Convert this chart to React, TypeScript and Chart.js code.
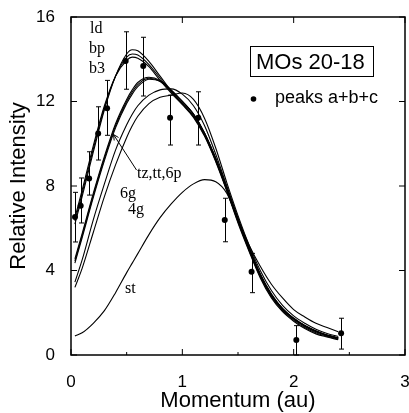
import React, { useEffect, useRef } from 'react';
import { Chart, registerables } from 'chart.js';

Chart.register(...registerables);

// Momentum grid (au) for the model curves
const momentum = [0.035, 0.1, 0.2, 0.3, 0.4, 0.5, 0.55, 0.6, 0.7, 0.8, 0.9, 1.0, 1.1, 1.2, 1.3, 1.4, 1.5, 1.6, 1.7, 1.8, 1.9, 2.0, 2.1, 2.2, 2.3, 2.4];

// Model curves
const ld = [6.2, 7.5, 9.6, 11.6, 13.2, 14.25, 14.45, 14.4, 13.9, 13.2, 12.5, 11.9, 11.3, 10.4, 9.2, 7.8, 6.35, 5.0, 3.75, 2.8, 2.15, 1.7, 1.35, 1.1, 0.92, 0.8];
const bp = [6.35, 7.65, 9.75, 11.7, 13.2, 14.1, 14.25, 14.2, 13.75, 13.1, 12.45, 11.9, 11.3, 10.4, 9.2, 7.8, 6.3, 4.95, 3.7, 2.75, 2.1, 1.65, 1.3, 1.05, 0.88, 0.75];
const b3 = [6.5, 7.8, 9.9, 11.8, 13.2, 13.95, 14.1, 14.05, 13.65, 13.0, 12.4, 11.85, 11.25, 10.35, 9.15, 7.75, 6.25, 4.9, 3.65, 2.7, 2.05, 1.6, 1.25, 1.0, 0.85, 0.72];
const tz = [4.55, 5.75, 7.65, 9.4, 10.95, 12.1, 12.55, 12.9, 13.15, 13.0, 12.55, 12.0, 11.4, 10.5, 9.3, 7.9, 6.4, 5.05, 3.8, 2.85, 2.2, 1.72, 1.38, 1.12, 0.93, 0.8];
const tt = [4.45, 5.65, 7.55, 9.3, 10.85, 12.0, 12.45, 12.8, 13.1, 12.97, 12.53, 12.0, 11.4, 10.5, 9.3, 7.9, 6.4, 5.05, 3.8, 2.85, 2.2, 1.72, 1.38, 1.12, 0.93, 0.8];
const p6 = [4.35, 5.55, 7.45, 9.2, 10.75, 11.9, 12.35, 12.7, 13.05, 12.95, 12.5, 12.0, 11.4, 10.5, 9.3, 7.9, 6.4, 5.05, 3.8, 2.85, 2.2, 1.72, 1.38, 1.12, 0.93, 0.8];
const g6 = [3.45, 4.5, 6.4, 8.1, 9.7, 10.9, 11.4, 11.8, 12.3, 12.55, 12.6, 12.35, 11.8, 10.85, 9.5, 8.0, 6.5, 5.1, 3.85, 2.9, 2.2, 1.75, 1.4, 1.15, 0.95, 0.82];
const g4 = [3.2, 4.1, 5.8, 7.5, 9.0, 10.3, 10.85, 11.3, 11.9, 12.2, 12.3, 12.4, 12.1, 11.2, 9.8, 8.15, 6.6, 5.2, 4.0, 3.05, 2.35, 1.85, 1.5, 1.22, 1.02, 0.88];
const st = [0.9, 1.05, 1.5, 2.1, 2.95, 3.9, 4.35, 4.8, 5.7, 6.5, 7.15, 7.7, 8.1, 8.3, 8.2, 7.65, 6.4, 5.2, 4.2, 3.35, 2.7, 2.15, 1.8, 1.5, 1.3, 1.1];

// Experimental data: peaks a+b+c
const peakX = [0.036, 0.087, 0.163, 0.244, 0.324, 0.491, 0.649, 0.89, 1.143, 1.381, 1.622, 2.024, 2.426];
const peakY = [6.53, 7.07, 8.36, 10.49, 11.68, 13.92, 13.68, 11.23, 11.23, 6.39, 3.94, 0.71, 1.03];
const peakHi = [7.7, 8.38, 9.62, 11.75, 13.0, 15.3, 15.04, 12.3, 12.46, 7.42, 4.81, 1.39, 1.74];
const peakLo = [5.35, 6.25, 7.57, 9.23, 10.4, 12.58, 12.26, 9.94, 9.94, 5.36, 2.95, 0.0, 0.28];

// Axis ticks
const xTicks = [0, 1, 2, 3];
const yTicks = [0, 4, 8, 12, 16];

const curves = [ld, bp, b3, tz, tt, p6, g6, g4, st];

const SANS = '"Liberation Sans", Arial, sans-serif';
const SERIF = '"Liberation Serif", "Times New Roman", serif';

const decorPlugin = {
  id: 'decor',
  afterDatasetsDraw(chart: any) {
    const { ctx, chartArea: a, scales } = chart;
    const xs = scales.x;
    const ys = scales.y;
    ctx.save();
    ctx.strokeStyle = '#000';
    ctx.fillStyle = '#000';

    // error bars
    ctx.lineWidth = 1;
    for (let i = 0; i < peakX.length; i++) {
      const px = Math.round(xs.getPixelForValue(peakX[i])) + 0.5;
      const top = ys.getPixelForValue(peakHi[i]);
      const bot = ys.getPixelForValue(peakLo[i]);
      ctx.beginPath();
      ctx.moveTo(px, top);
      ctx.lineTo(px, bot);
      ctx.moveTo(px - 2.5, top);
      ctx.lineTo(px + 2.5, top);
      ctx.moveTo(px - 2.5, bot);
      ctx.lineTo(px + 2.5, bot);
      ctx.stroke();
    }

    // frame
    ctx.lineWidth = 1.5;
    ctx.strokeRect(a.left, a.top, a.right - a.left, a.bottom - a.top);

    // inward ticks
    ctx.lineWidth = 1;
    ctx.beginPath();
    for (const v of yTicks) {
      const py = ys.getPixelForValue(v);
      ctx.moveTo(a.left, py);
      ctx.lineTo(a.left + 6, py);
      ctx.moveTo(a.right, py);
      ctx.lineTo(a.right - 6, py);
    }
    for (const v of xTicks) {
      const px = xs.getPixelForValue(v);
      ctx.moveTo(px, a.bottom);
      ctx.lineTo(px, a.bottom - 6);
      ctx.moveTo(px, a.top);
      ctx.lineTo(px, a.top + 6);
    }
    for (let v = 0.5; v < 3; v += 1) {
      const px = xs.getPixelForValue(v);
      ctx.moveTo(px, a.bottom);
      ctx.lineTo(px, a.bottom - 3);
    }
    ctx.stroke();

    // curve labels
    ctx.font = '16px ' + SERIF;
    ctx.textBaseline = 'alphabetic';
    ctx.textAlign = 'left';
    ctx.fillText('ld', 90, 33);
    ctx.fillText('bp', 89, 53);
    ctx.fillText('b3', 89, 73);
    ctx.fillText('tz,tt,6p', 137, 178);
    ctx.fillText('6g', 120, 198);
    ctx.fillText('4g', 128, 214);
    ctx.fillText('st', 125, 293);

    // arrow to tz,tt,6p
    ctx.lineWidth = 1;
    ctx.beginPath();
    ctx.moveTo(136.5, 170);
    ctx.lineTo(113.5, 134.5);
    ctx.moveTo(113.5, 134.5);
    ctx.lineTo(114.2, 140.5);
    ctx.moveTo(113.5, 134.5);
    ctx.lineTo(118.5, 137.5);
    ctx.stroke();

    // legend box
    ctx.lineWidth = 1;
    ctx.strokeRect(250.5, 46.5, 123, 30);
    ctx.font = '22px ' + SANS;
    ctx.fillText('MOs 20-18', 256, 69);
    ctx.beginPath();
    ctx.arc(253.5, 99, 2.8, 0, Math.PI * 2);
    ctx.fill();
    ctx.font = '18px ' + SANS;
    ctx.fillText('peaks a+b+c', 275, 103);

    ctx.restore();
  },
};

export default function App() {
  const ref = useRef<HTMLCanvasElement | null>(null);

  useEffect(() => {
    document.body.style.margin = '0';
    const canvas = ref.current;
    if (!canvas) return;

    const curveSets = curves.map((c) => ({
      type: 'line' as const,
      data: momentum.map((x, i) => ({ x, y: c[i] })),
      borderColor: '#000',
      borderWidth: 1.1,
      pointRadius: 0,
      fill: false,
      cubicInterpolationMode: 'monotone' as const,
      showLine: true,
    }));

    const chart = new Chart(canvas, {
      type: 'scatter',
      data: {
        datasets: [
          ...curveSets,
          {
            type: 'scatter' as const,
            data: peakX.map((x, i) => ({ x, y: peakY[i] })),
            backgroundColor: '#000',
            borderColor: '#000',
            pointRadius: 3,
            borderWidth: 0,
            showLine: false,
          },
        ] as any,
      },
      options: {
        animation: false,
        responsive: false,
        devicePixelRatio: 1,
        layout: { padding: { top: 17, right: 2, left: 0, bottom: 0 } },
        plugins: {
          legend: { display: false },
          tooltip: { enabled: false },
        },
        scales: {
          x: {
            type: 'linear',
            min: 0,
            max: 3,
            afterBuildTicks: (s: any) => {
              s.ticks = xTicks.map((v) => ({ value: v }));
            },
            ticks: {
              color: '#000',
              font: { family: SANS, size: 17 },
              padding: 9,
              maxRotation: 0,
              autoSkip: false,
            },
            grid: { display: false },
            border: { display: false },
            title: {
              display: true,
              text: 'Momentum (au)',
              color: '#000',
              font: { family: SANS, size: 22, lineHeight: 1 },
              padding: { top: 0, bottom: 1 },
            },
            afterFit: (s: any) => {
              s.height = 58;
              s.paddingLeft = 0;
              s.paddingRight = 0;
            },
          },
          y: {
            type: 'linear',
            min: 0,
            max: 16,
            afterBuildTicks: (s: any) => {
              s.ticks = yTicks.map((v) => ({ value: v }));
            },
            ticks: {
              color: '#000',
              font: { family: SANS, size: 17 },
              padding: 8,
              autoSkip: false,
            },
            grid: { display: false },
            border: { display: false },
            title: {
              display: true,
              text: 'Relative Intensity',
              color: '#000',
              font: { family: SANS, size: 22, lineHeight: 1 },
              padding: { top: 8, bottom: 0 },
            },
            afterFit: (s: any) => {
              s.width = 71;
              s.paddingTop = 0;
              s.paddingBottom = 0;
            },
          },
        },
      },
      plugins: [decorPlugin],
    });

    return () => chart.destroy();
  }, []);

  return (
    <div style={{ position: 'absolute', left: 0, top: 0, width: 409, height: 413 }}>
      <canvas ref={ref} width={409} height={413} style={{ display: 'block', width: 409, height: 413 }} />
    </div>
  );
}
